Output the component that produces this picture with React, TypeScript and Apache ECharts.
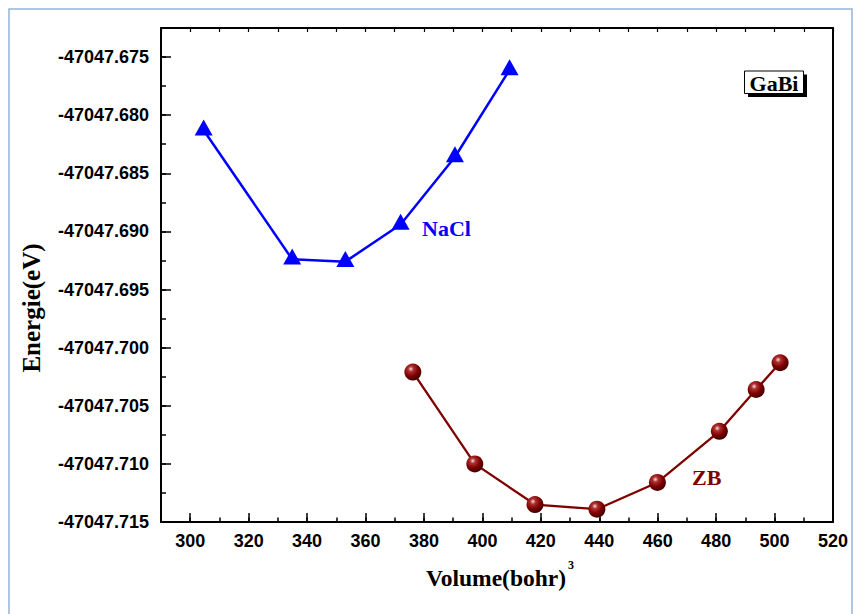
import React, { useEffect, useRef } from "react";
import * as echarts from "echarts";

// ---- data ----
const naclVolume = [304.6, 334.9, 353.1, 372.0, 390.6, 409.3];
const naclEnergy = [-47047.6813, -47047.6924, -47047.6926, -47047.6894, -47047.6836, -47047.6761];

const zbVolume = [376.2, 397.4, 418.0, 439.2, 459.9, 481.1, 493.7, 501.9];
const zbEnergy = [-47047.7021, -47047.71, -47047.7135, -47047.7139, -47047.7116, -47047.7072, -47047.7036, -47047.7013];

const xMajorTicks = [300, 320, 340, 360, 380, 400, 420, 440, 460, 480, 500, 520];
const xMin = 290;
const xMax = 520;
const yMin = -47047.715;
const yMax = -47047.6725;
const yStep = 0.005;

const SANS = '"Liberation Sans", Arial, sans-serif';
const SERIF = '"Liberation Serif", "Times New Roman", serif';

export default function App() {
  const ref = useRef<HTMLDivElement>(null);

  useEffect(() => {
    if (!ref.current) return;
    const chart = echarts.init(ref.current, undefined, { renderer: "svg" });

    const gridRect = { left: 161, right: 23, top: 28, bottom: 92 };
    const axisLineStyle = { color: "#000", width: 2 };

    const option: any = {
      animation: false,
      backgroundColor: "#fff",
      grid: [
        { ...gridRect, containLabel: false },
        { ...gridRect, containLabel: false },
      ],
      xAxis: [
        {
          type: "value",
          gridIndex: 0,
          position: "bottom",
          min: xMin,
          max: xMax,
          interval: 10,
          axisLine: { show: true, onZero: false, lineStyle: axisLineStyle },
          axisTick: {
            show: true,
            inside: true,
            length: 9,
            lineStyle: { color: "#000", width: 1.5 },
            customValues: xMajorTicks,
          },
          axisLabel: {
            show: true,
            customValues: xMajorTicks,
            color: "#000",
            fontFamily: SANS,
            fontWeight: "bold",
            fontSize: 18,
            margin: 10,
          },
          splitLine: { show: false },
        },
        {
          type: "value",
          gridIndex: 0,
          position: "top",
          min: xMin,
          max: xMax,
          interval: 10,
          axisLine: { show: true, onZero: false, lineStyle: axisLineStyle },
          axisTick: { show: true, inside: true, length: 4, lineStyle: { color: "#000", width: 1.2 } },
          axisLabel: { show: false },
          splitLine: { show: false },
        },
        {
          type: "value",
          gridIndex: 1,
          position: "bottom",
          min: xMin,
          max: xMax,
          interval: 10,
          axisLine: { show: false, onZero: false },
          axisTick: { show: true, inside: true, length: 4.5, lineStyle: { color: "#000", width: 1.5 } },
          axisLabel: { show: false },
          splitLine: { show: false },
        },
      ],
      yAxis: [
        {
          type: "value",
          gridIndex: 0,
          position: "left",
          min: yMin,
          max: yMax,
          interval: yStep,
          axisLine: { show: true, onZero: false, lineStyle: axisLineStyle },
          axisTick: { show: true, inside: true, length: 10, lineStyle: { color: "#000", width: 1.5 } },
          axisLabel: {
            show: true,
            showMaxLabel: false,
            color: "#000",
            fontFamily: SANS,
            fontWeight: "bold",
            fontSize: 18,
            margin: 12,
            formatter: (v: number) => v.toFixed(3),
          },
          splitLine: { show: false },
        },
        {
          type: "value",
          gridIndex: 0,
          position: "right",
          min: yMin,
          max: yMax,
          interval: yStep,
          axisLine: { show: true, onZero: false, lineStyle: axisLineStyle },
          axisTick: { show: false },
          axisLabel: { show: false },
          splitLine: { show: false },
        },
        {
          type: "value",
          gridIndex: 1,
          position: "left",
          min: yMin,
          max: yMax,
          interval: yStep / 2,
          axisLine: { show: false, onZero: false },
          axisTick: { show: true, inside: true, length: 5, lineStyle: { color: "#000", width: 1.5 } },
          axisLabel: { show: false },
          splitLine: { show: false },
        },
      ],
      series: [
        {
          name: "NaCl",
          type: "line",
          xAxisIndex: 0,
          yAxisIndex: 0,
          data: naclVolume.map((v, i) => [v, naclEnergy[i]]),
          symbol: "triangle",
          symbolSize: [18, 16],
          symbolOffset: [0, -2.7],
          showAllSymbol: true,
          itemStyle: { color: "#0000ff" },
          lineStyle: { color: "#0000ff", width: 2.5 },
          z: 3,
        },
        {
          name: "ZB",
          type: "line",
          xAxisIndex: 0,
          yAxisIndex: 0,
          data: zbVolume.map((v, i) => [v, zbEnergy[i]]),
          symbol: "circle",
          symbolSize: 17,
          showAllSymbol: true,
          itemStyle: {
            color: {
              type: "radial",
              x: 0.38,
              y: 0.32,
              r: 0.72,
              colorStops: [
                { offset: 0, color: "#f6dede" },
                { offset: 0.22, color: "#b03030" },
                { offset: 0.6, color: "#7a0000" },
                { offset: 1, color: "#3c0000" },
              ],
            },
          },
          lineStyle: { color: "#800000", width: 2.3 },
          z: 3,
        },
      ],
      graphic: [
        {
          type: "rect",
          z: -10,
          shape: { x: 9, y: 9, width: 843, height: 640 },
          style: { fill: "none", stroke: "#95b3d7", lineWidth: 1.5 },
        },
        {
          type: "text",
          x: 422,
          y: 228,
          style: {
            text: "NaCl",
            fill: "#0000ff",
            fontFamily: SERIF,
            fontWeight: "bold",
            fontSize: 22,
            align: "left",
            verticalAlign: "middle",
          },
        },
        {
          type: "text",
          x: 692,
          y: 477,
          style: {
            text: "ZB",
            fill: "#800000",
            fontFamily: SERIF,
            fontWeight: "bold",
            fontSize: 22,
            align: "left",
            verticalAlign: "middle",
          },
        },
        {
          type: "rect",
          shape: { x: 748, y: 74.5, width: 59, height: 22.5 },
          style: { fill: "#000" },
        },
        {
          type: "rect",
          shape: { x: 744.5, y: 71, width: 59, height: 22.5 },
          style: { fill: "#fff", stroke: "#000", lineWidth: 1 },
        },
        {
          type: "text",
          x: 774,
          y: 83,
          style: {
            text: "GaBi",
            fill: "#000",
            fontFamily: SERIF,
            fontWeight: "bold",
            fontSize: 22,
            align: "center",
            verticalAlign: "middle",
          },
        },
        {
          type: "text",
          x: 31,
          y: 308,
          rotation: Math.PI / 2,
          style: {
            text: "Energie(eV)",
            fill: "#000",
            fontFamily: SERIF,
            fontWeight: "bold",
            fontSize: 25,
            align: "center",
            verticalAlign: "middle",
          },
        },
        {
          type: "text",
          x: 496,
          y: 578,
          style: {
            text: "Volume(bohr)",
            fill: "#000",
            fontFamily: SERIF,
            fontWeight: "bold",
            fontSize: 23.5,
            align: "center",
            verticalAlign: "middle",
          },
        },
        {
          type: "text",
          x: 568,
          y: 565,
          style: {
            text: "3",
            fill: "#000",
            fontFamily: SERIF,
            fontWeight: "bold",
            fontSize: 12,
            align: "left",
            verticalAlign: "middle",
          },
        },
      ],
    };

    chart.setOption(option);
    return () => chart.dispose();
  }, []);

  return (
    <div
      ref={ref}
      style={{ position: "fixed", left: 0, top: 0, width: 856, height: 614 }}
    />
  );
}
